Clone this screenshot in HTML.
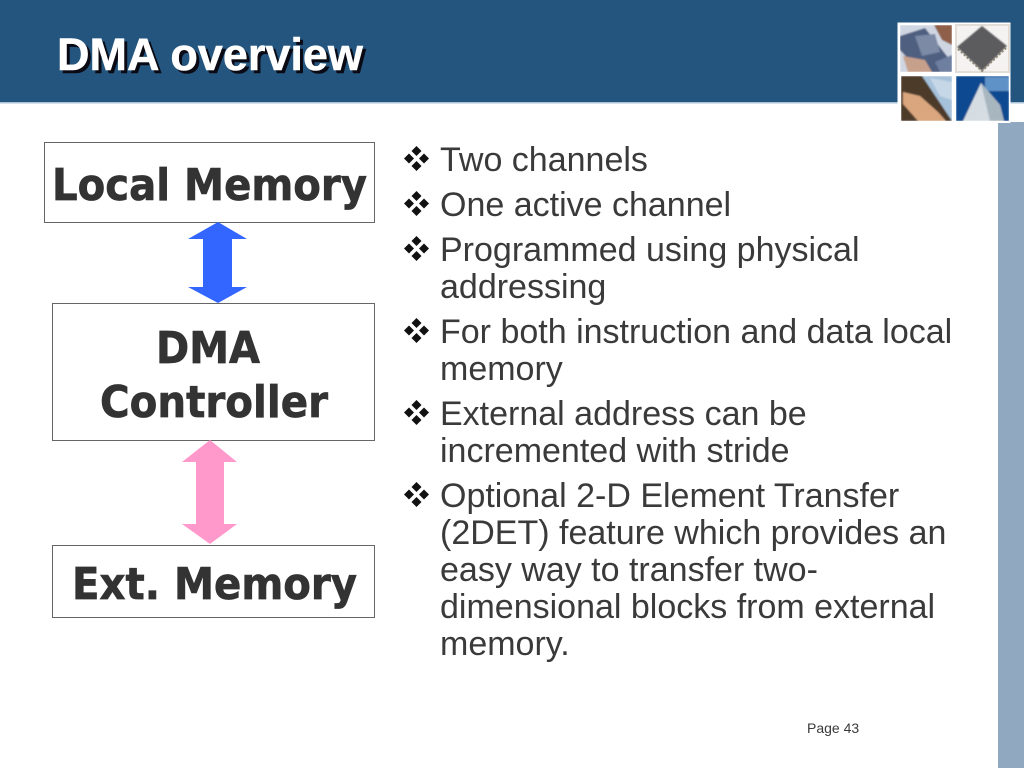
<!DOCTYPE html>
<html>
<head>
<meta charset="utf-8">
<style>
html,body{margin:0;padding:0;background:#fff;}
svg{display:block;}
.b{font-family:"DejaVu Sans",sans-serif;font-weight:bold;font-size:44px;fill:#333;stroke:#333;stroke-width:.7px;}
.t{font-family:"Liberation Sans",sans-serif;font-size:34px;fill:#3a3a3a;}
.h{font-family:"Liberation Sans",sans-serif;font-size:45px;font-weight:bold;}
</style>
</head>
<body>
<svg width="1024" height="768" viewBox="0 0 1024 768" xmlns="http://www.w3.org/2000/svg">
<defs>
<g id="d">
<polygon points="0,-12.5 5,-7.5 0,-2.5 -5,-7.5" fill="#111"/>
<polygon points="0,12.5 5,7.5 0,2.5 -5,7.5" fill="#111"/>
<polygon points="-12.5,0 -7.5,-5 -2.5,0 -7.5,5" fill="#111"/>
<polygon points="12.5,0 7.5,-5 2.5,0 7.5,5" fill="#111"/>
</g>
<filter id="bl" x="-5%" y="-5%" width="110%" height="110%"><feGaussianBlur stdDeviation="0.9"/></filter>
<clipPath id="c1"><rect x="900" y="25" width="52" height="47"/></clipPath>
<clipPath id="c3"><rect x="901" y="76" width="51" height="45"/></clipPath>
<clipPath id="c4"><rect x="956" y="76" width="53" height="45"/></clipPath>
</defs>
<rect width="1024" height="768" fill="#fff"/>
<rect x="0" y="0" width="1024" height="102" fill="#24557f"/>
<rect x="0" y="102" width="1024" height="1.5" fill="#a9c2d6"/>
<rect x="998" y="122" width="26" height="646" fill="#91a9c0"/>
<text class="h" x="60" y="73" fill="#0a0a14" stroke="#0a0a14" stroke-width=".5">DMA overview</text>
<text class="h" x="57" y="70" fill="#fff" stroke="#fff" stroke-width=".5">DMA overview</text>

<!-- thumbnails -->
<rect x="897.5" y="22.5" width="113" height="100.5" fill="#fff"/>
<g clip-path="url(#c1)"><g filter="url(#bl)">
<rect x="900" y="25" width="52" height="47" fill="#cfd6e2"/>
<polygon points="900,36 925,28 950,60 952,72 920,72 900,50" fill="#4f5f80"/>
<polygon points="915,36 935,34 940,52 922,56" fill="#7b8aa6"/>
<polygon points="903,56 925,60 932,72 908,72" fill="#c7a08c"/>
<polygon points="934,25 952,25 952,45 942,40" fill="#8f5f48"/>
<polygon points="935,62 952,55 952,72 940,72" fill="#6e7fa0"/>
</g></g>
<rect x="955" y="24" width="55" height="49" fill="#e2ddd6"/>
<rect x="957" y="26" width="51" height="45" fill="#f4f3f1"/>
<polygon points="982,26 1007,46 982,71 957,47" fill="#5c5c5e" filter="url(#bl)"/>
<path d="M958 49 L982 71 L1006 48" fill="none" stroke="#8c8270" stroke-width="2" stroke-dasharray="2 2"/>
<g clip-path="url(#c3)"><g filter="url(#bl)">
<rect x="901" y="76" width="51" height="45" fill="#a6c2da"/>
<polygon points="901,76 922,76 938,100 952,121 901,121" fill="#4d3a2a"/>
<polygon points="903,92 920,96 938,112 946,121 918,121 903,104" fill="#d9a67e"/>
<polygon points="930,78 952,82 952,100 940,96" fill="#c6d8e8"/>
</g></g>
<g clip-path="url(#c4)"><g filter="url(#bl)">
<rect x="956" y="76" width="53" height="45" fill="#0d4a90"/>
<rect x="985" y="77" width="24" height="14" fill="#5f93c7"/>
<polygon points="963,121 981,83 1000,105 1004,121" fill="#d5dde3"/>
<polygon points="981,83 1000,105 1004,121 990,121" fill="#a8b6c0"/>
</g></g>

<!-- boxes -->
<rect x="44.5" y="142.5" width="330" height="80" fill="#fff" stroke="#666" stroke-width="1"/>
<rect x="52.5" y="303.5" width="322" height="137" fill="#fff" stroke="#666" stroke-width="1"/>
<rect x="52.5" y="545.5" width="322" height="72" fill="#fff" stroke="#666" stroke-width="1"/>
<text class="b" x="52" y="200" textLength="315" lengthAdjust="spacingAndGlyphs">Local Memory</text>
<text class="b" x="156" y="363" textLength="104" lengthAdjust="spacingAndGlyphs">DMA</text>
<text class="b" x="100" y="417" textLength="228" lengthAdjust="spacingAndGlyphs">Controller</text>
<text class="b" x="72" y="599" textLength="285" lengthAdjust="spacingAndGlyphs">Ext. Memory</text>

<!-- arrows -->
<polygon points="218,222 247,239 232,239 232,287 247,287 218,303 188,287 203,287 203,239 188,239" fill="#3366ff"/>
<polygon points="210,440 237,462 224,462 224,524 237,524 210,544 182,524 196,524 196,462 182,462" fill="#ff99cc"/>

<!-- bullets -->
<use href="#d" x="416.5" y="158.5"/>
<use href="#d" x="416.5" y="203.5"/>
<use href="#d" x="416.5" y="248.5"/>
<use href="#d" x="416.5" y="330.5"/>
<use href="#d" x="416.5" y="412.5"/>
<use href="#d" x="416.5" y="494.5"/>

<text class="t" x="440" y="171">Two channels</text>
<text class="t" x="440" y="216">One active channel</text>
<text class="t" x="440" y="261">Programmed using physical</text>
<text class="t" x="440" y="298">addressing</text>
<text class="t" x="440" y="343">For both instruction and data local</text>
<text class="t" x="440" y="380">memory</text>
<text class="t" x="440" y="425">External address can be</text>
<text class="t" x="440" y="462">incremented with stride</text>
<text class="t" x="440" y="507">Optional 2-D Element Transfer</text>
<text class="t" x="440" y="544">(2DET) feature which provides an</text>
<text class="t" x="440" y="581">easy way to transfer two-</text>
<text class="t" x="440" y="618">dimensional blocks from external</text>
<text class="t" x="440" y="655">memory.</text>

<text x="807" y="733" font-family="'Liberation Sans',sans-serif" font-size="14" fill="#3a3a3a">Page 43</text>
</svg>
</body>
</html>
